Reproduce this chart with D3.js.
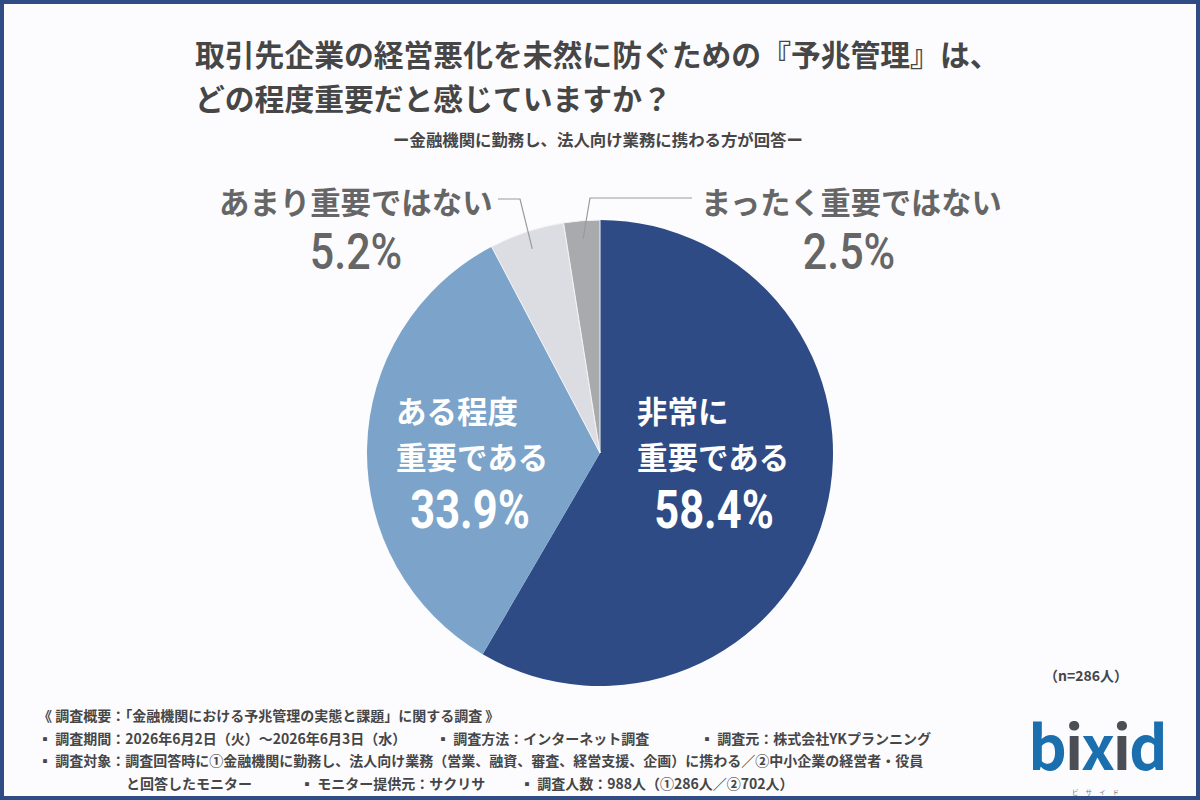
<!DOCTYPE html>
<html><head><meta charset="utf-8">
<script src="https://cdn.jsdelivr.net/npm/d3@7"></script>
<style>
html,body{margin:0;padding:0;background:#fff;}
svg{display:block;}
text{font-family:"Noto Sans CJK JP","Noto Sans",sans-serif;}
.num{font-family:Roboto,"Noto Sans",sans-serif;}
</style></head>
<body>
<svg id="chart" width="1200" height="800"></svg>
<script>
const categories = ["非常に重要である", "ある程度重要である", "あまり重要ではない", "まったく重要ではない"];
const values = [58.4, 33.9, 5.2, 2.5];
const colors = ["#2e4b85", "#7ca4ca", "#dcdde2", "#a9aaae"];
const titleLines = ["取引先企業の経営悪化を未然に防ぐための『予兆管理』は、", "どの程度重要だと感じていますか？"];
const subtitle = "ー金融機関に勤務し、法人向け業務に携わる方が回答ー";
const sampleNote = "（n=286人）";
const footLines = [
  [[38, "《 調査概要：「金融機関における予兆管理の実態と課題」に関する調査 》"]],
  [[38, "▪ 調査期間：2026年6月2日（火）〜2026年6月3日（水）"], [436, "▪ 調査方法：インターネット調査"], [700, "▪ 調査元：株式会社YKプランニング"]],
  [[38, "▪ 調査対象：調査回答時に①金融機関に勤務し、法人向け業務（営業、融資、審査、経営支援、企画）に携わる／②中小企業の経営者・役員"]],
  [[126, "と回答したモニター"], [300, "▪ モニター提供元：サクリサ"], [520, "▪ 調査人数：988人（①286人／②702人）"]]
];

const svg = d3.select("#chart");
svg.append("rect").attr("x",0).attr("y",0).attr("width",1200).attr("height",800).attr("fill","#2f4c85");
svg.append("rect").attr("x",4).attr("y",4).attr("width",1192).attr("height",792).attr("fill","#fcfcfe");

// Title
svg.selectAll("text.title").data(titleLines).join("text")
  .attr("class","title").attr("x",195).attr("y",(d,i)=>66+i*44)
  .attr("font-size",29.8).attr("font-weight",700).attr("fill","#464646").text(d=>d);
svg.append("text").attr("x",598).attr("y",146).attr("text-anchor","middle")
  .attr("font-size",16.4).attr("font-weight",700).attr("fill","#464646").text(subtitle);

// Pie
const cx = 600, cy = 453, R = 233;
const pie = d3.pie().sort(null).value(d=>d)(values);
const arc = d3.arc().innerRadius(0).outerRadius(R);
const g = svg.append("g").attr("transform",`translate(${cx},${cy})`);
g.selectAll("path").data(pie).join("path").attr("d",arc).attr("fill",(d,i)=>colors[i])
  .attr("stroke",(d,i)=> i>=2 ? "#f4f4f6" : "none").attr("stroke-width",1);

// Leader lines
const lineArc = d3.arc().innerRadius(R-18).outerRadius(R-18);
function leader(i, pts){
  const c = lineArc.centroid(pie[i]);
  const p = [[cx+c[0], cy+c[1]], ...pts];
  svg.append("path").attr("d", d3.line()(p)).attr("fill","none").attr("stroke","#9a9a9a").attr("stroke-width",1.2);
}
leader(2, [[520,199],[498,199]]);
leader(3, [[590,198],[692,198]]);

// Outside labels
function pctText(x, y, size, sx, weight, fill, t){
  svg.append("text").attr("class","num")
    .attr("transform",`translate(${x},${y}) scale(${sx},1)`)
    .attr("text-anchor","middle").attr("font-size",size).attr("font-weight",weight).attr("fill",fill).text(t);
}
svg.append("text").attr("x",219).attr("y",214).attr("font-size",30.4).attr("font-weight",700).attr("fill","#666").text(categories[2]);
pctText(356, 269, 50, 0.86, 500, "#666", values[2].toFixed(1)+"%");
svg.append("text").attr("x",701).attr("y",214).attr("font-size",30.2).attr("font-weight",700).attr("fill","#666").text(categories[3]);
pctText(849, 269, 50, 0.86, 500, "#666", values[3].toFixed(1)+"%");

// Inside labels
function inside(x, l1, l2, pct, pctX){
  svg.append("text").attr("x",x).attr("y",423).attr("font-size",30.5).attr("font-weight",700).attr("fill","#fff").text(l1);
  svg.append("text").attr("x",x).attr("y",469).attr("font-size",30.5).attr("font-weight",700).attr("fill","#fff").text(l2);
  pctText(pctX, 528, 53, 0.82, 700, "#fff", pct);
}
inside(637, "非常に", "重要である", values[0].toFixed(1)+"%", 714);
inside(396, "ある程度", "重要である", values[1].toFixed(1)+"%", 470);

// n note
svg.append("text").attr("x",1128).attr("y",681).attr("text-anchor","end").attr("font-size",14).attr("font-weight",700).attr("fill","#464646").text(sampleNote);

// Footnotes
footLines.forEach((line, li)=>{
  line.forEach(([x,t])=>{
    svg.append("text").attr("x",x).attr("y",721+li*22.5).attr("font-size",14).attr("font-weight",700).attr("fill","#464646").text(t);
  });
});

// Logo
const logo = svg.append("text").attr("x",1097).attr("y",770).attr("text-anchor","middle")
  .attr("font-family","Lato, 'Open Sans', sans-serif").attr("font-size",60).attr("font-weight",700)
  .attr("letter-spacing",-2).attr("fill","#1b6fae");
logo.append("tspan").text("b");
logo.append("tspan").attr("fill","#4b4e55").text("i");
logo.append("tspan").text("x");
logo.append("tspan").attr("fill","#4b4e55").text("i");
logo.append("tspan").text("d");
svg.append("text").attr("x",1099).attr("y",794.5).attr("text-anchor","middle").attr("font-size",6.5).attr("letter-spacing",7).attr("fill","#777").text("ビサイド");
</script>
</body></html>
